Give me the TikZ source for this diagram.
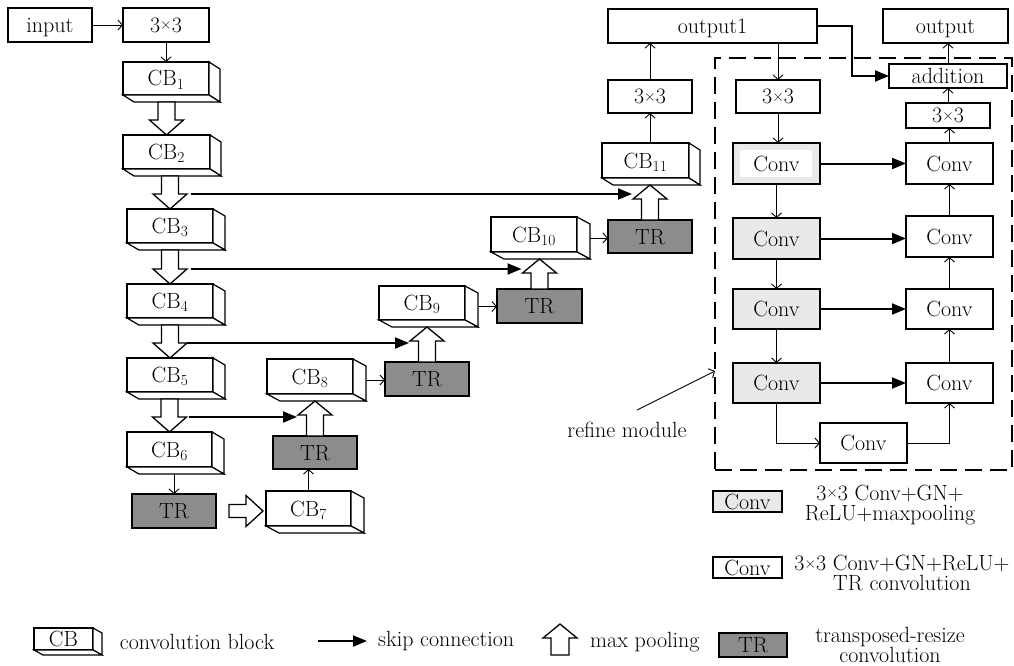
\documentclass[tikz,border=0pt]{standalone}
\usetikzlibrary{arrows.meta,calc}
\definecolor{trgray}{RGB}{140,140,140}
\definecolor{convgray}{RGB}{233,233,233}

% small multiplication sign used in "3x3"
\newcommand\tms{\raisebox{2.5pt}{\fontsize{16}{16}\selectfont ×}}
% \bx{name}{style}{x1}{y1}{x2}{y2}{text}: box given by its corners
\newcommand\bx[7]{\node[#2, minimum width={(#5)-(#3)}, minimum height={(#6)-(#4)}] (#1) at ({((#3)+(#5))/2},{((#4)+(#6))/2}) {#7};}
% \cbx{name}{x1}{y1}{x2}{y2}{text}{dx}{dy}: convolution block with extruded faces
\newcommand\cbx[8]{%
  \bx{#1}{box}{#2}{#3}{#4}{#5}{#6}
  \draw[face] (#1.north east) -- ++(#7,#8) -- ($(#1.south east)+(#7,#8)$) -- (#1.south east) -- cycle;
  \draw[face] (#1.south west) -- ++(#7,#8) -- ($(#1.south east)+(#7,#8)$) -- (#1.south east) -- cycle;
  \coordinate (#1b) at ($(#1.south)+(0,#8)$);
  \coordinate (#1r) at ($(#1.east)+(#7,#8/2)$);
}
% hollow max-pooling arrow pointing down, from block #1 to block #2
\newcommand\pooldown[2]{%
  \draw[hollow] let \p1=(#1b), \p2=(#2.north) in
    (\x2-8.5pt,\y1) -- (\x2+8.5pt,\y1) -- (\x2+8.5pt,\y2+15pt) -- (\x2+17pt,\y2+15pt) coordinate (#1pr)
    -- (\x2,\y2) -- (\x2-17pt,\y2+15pt) -- (\x2-8.5pt,\y2+15pt) -- cycle;}
% hollow max-pooling arrow pointing up, from TR box #1 to block #2
\newcommand\poolup[2]{%
  \draw[hollow] let \p1=(#1.north), \p2=(#2b) in
    (\x1-8.5pt,\y1) -- (\x1-8.5pt,\y2-14pt) -- (\x1-17pt,\y2-14pt) coordinate (#2pl)
    -- (\x1,\y2) -- (\x1+17pt,\y2-14pt) -- (\x1+8.5pt,\y2-14pt) -- (\x1+8.5pt,\y1) -- cycle;}

\begin{document}
\begin{tikzpicture}[x=1pt,y=-1pt,
  every node/.style={font=\fontsize{22}{22}\selectfont},
  box/.style={draw, line width=1.2pt, fill=white, inner sep=0pt, outer sep=0pt,
              text height=16pt, text depth=1pt},
  trbox/.style={box, fill=trgray},
  convbox/.style={box, fill=convgray},
  innerwhite/.style={path picture={\fill[white]
      ($(path picture bounding box.south west)+(7,-7)$) rectangle
      ($(path picture bounding box.north east)+(-8,7)$);}},
  face/.style={draw, line width=1.2pt, fill=white},
  hollow/.style={draw, line width=1.3pt, fill=white},
  link/.style={line width=0.9pt, -{Straight Barb[length=4.5pt,width=10pt]}},
  skiparrow/.style={line width=2pt, -{Triangle[length=14pt,width=11pt]}},
  dashedframe/.style={draw, line width=1.3pt, dash pattern=on 17pt off 8pt, inner sep=0pt},
  lbl/.style={align=center, inner sep=0pt},
  lbl2/.style={lbl, font=\fontsize{22}{20}\selectfont},
]
\useasboundingbox (0,0) rectangle (1014,666);

% refine module frame
\node[dashedframe, minimum width=297, minimum height=412] (frame) at (863.5,264) {};

% encoder column
\bx{input}{box}{8}{8}{92}{42}{input}
\bx{c33a}{box}{123}{8}{209}{42}{3\tms 3}
\cbx{cb1}{123}{62}{209}{95}{CB\textsubscript{1}}{11}{7}
\cbx{cb2}{123}{135}{210}{169}{CB\textsubscript{2}}{11}{7}
\cbx{cb3}{127}{209}{213}{243}{CB\textsubscript{3}}{12}{7}
\cbx{cb4}{127}{284}{213}{318}{CB\textsubscript{4}}{12}{7}
\cbx{cb5}{127}{358}{213}{392}{CB\textsubscript{5}}{12}{7}
\cbx{cb6}{127}{432}{212}{467}{CB\textsubscript{6}}{12}{7}
\bx{tr6}{trbox}{132}{494}{216}{528}{TR}

% decoder staircase
\cbx{cb7}{266}{491}{351}{526}{CB\textsubscript{7}}{13}{7}
\bx{tr7}{trbox}{273}{436}{357}{469}{TR}
\cbx{cb8}{267}{359}{353}{394}{CB\textsubscript{8}}{13}{7}
\bx{tr8}{trbox}{385}{362}{469}{396}{TR}
\cbx{cb9}{379}{286}{465}{320}{CB\textsubscript{9}}{13}{7}
\bx{tr9}{trbox}{497}{289}{582}{323}{TR}
\cbx{cb10}{491}{217}{577}{252}{CB\textsubscript{10}}{13}{7}
\bx{tr10}{trbox}{608}{220}{692}{253}{TR}
\cbx{cb11}{602}{143}{689}{178}{CB\textsubscript{11}}{11}{7}
\bx{c33b}{box}{608}{80}{692}{113}{3\tms 3}
\bx{out1}{box}{608}{9}{817}{43}{output1}

% refine module
\bx{r33}{box}{736}{80}{820}{113}{3\tms 3}
\bx{L1}{convbox,innerwhite}{733}{143}{820}{184}{Conv}
\bx{L2}{convbox}{733}{218}{820}{259}{Conv}
\bx{L3}{convbox}{733}{289}{820}{329}{Conv}
\bx{L4}{convbox}{733}{363}{820}{403}{Conv}
\bx{R1}{box}{906}{143}{993}{184}{Conv}
\bx{R2}{box}{906}{216}{993}{257}{Conv}
\bx{R3}{box}{906}{289}{993}{329}{Conv}
\bx{R4}{box}{906}{363}{993}{403}{Conv}
\bx{B}{box}{820}{423}{907}{463}{Conv}
\bx{s33}{box}{906}{103}{990}{128}{3\tms 3}
\bx{add}{box}{889}{64}{1007}{88}{addition}
\bx{out}{box}{883}{9}{1008}{43}{output}

% encoder links
\draw[link] (input) -- (c33a);
\draw[link] (c33a) -- (cb1);
\pooldown{cb1}{cb2}
\pooldown{cb2}{cb3}
\pooldown{cb3}{cb4}
\pooldown{cb4}{cb5}
\pooldown{cb5}{cb6}
\draw[link] (tr6.north |- cb6b) -- (tr6.north);
\draw[hollow] let \p1=(tr6.east), \p2=(cb7.west) in
  (\x1+13pt,\y1+6.5pt) -- (\x2-20pt,\y1+6.5pt) -- (\x2-20pt,\y1+15.5pt) -- (\x2-3pt,\y1)
  -- (\x2-20pt,\y1-15.5pt) -- (\x2-20pt,\y1-6.5pt) -- (\x1+13pt,\y1-6.5pt) -- cycle;

% decoder links
\draw[link] (cb7.north) -- (cb7.north |- tr7.south);
\poolup{tr7}{cb8}
\draw[link] (cb8r) -- (tr8.west |- cb8r);
\poolup{tr8}{cb9}
\draw[link] (cb9r) -- (tr9.west |- cb9r);
\poolup{tr9}{cb10}
\draw[link] (cb10r) -- (tr10.west |- cb10r);
\poolup{tr10}{cb11}
\draw[link] (c33b.south |- cb11.north) -- (c33b.south);
\draw[link] (c33b.north) -- (c33b.north |- out1.south);

% skip connections
\draw[skiparrow, shorten <=4pt, shorten >=1pt] (cb2pr) -- (cb2pr -| cb11pl);
\draw[skiparrow, shorten <=4pt, shorten >=1pt] (cb3pr) -- (cb3pr -| cb10pl);
\draw[skiparrow, shorten <=0pt, shorten >=1pt] (cb4pr) -- (cb4pr -| cb9pl);
\draw[skiparrow, shorten <=2pt, shorten >=1pt] (cb5pr) -- (cb5pr -| cb8pl);

% refine module links
\draw[link] (r33.north |- out1.south) -- (r33.north);
\draw[skiparrow] (out1.east) -- ++(35,0) |- (add.west);
\draw[link] (r33.south) -- (r33.south |- L1.north);
\draw[link] (L1) -- (L2);
\draw[link] (L2) -- (L3);
\draw[link] (L3) -- (L4);
\draw[skiparrow] (L1.east) -- (L1.east -| R1.west);
\draw[skiparrow] (L2.east) -- (L2.east -| R2.west);
\draw[skiparrow] (L3.east) -- (L3.east -| R3.west);
\draw[skiparrow] (L4.east) -- (L4.east -| R4.west);
\draw[link] (L4.south) |- (B.west);
\draw[link] (B.east) -| (R4.south);
\draw[link] (R4) -- (R3);
\draw[link] (R3) -- (R2);
\draw[link] (R2) -- (R1);
\draw[link] (R1.north) -- (R1.north |- s33.south);
\draw[link] (s33.north) -- (s33.north |- add.south);
\draw[link] (add.north) -- (add.north |- out.south);

% refine module label
\node[lbl] (rm) at (627,430) {refine module};
\coordinate (rmtail) at (637,410);
\coordinate (rmtip) at (715,371);
\draw[link] (rmtail) -- (rmtip);

% legend, right side
\bx{lg1}{convbox}{713}{491}{782}{512}{Conv}
\node[lbl2] (lg1t) at (890,505) {3\tms 3 Conv+GN+\\ReLU+maxpooling};
\bx{lg2}{box}{713}{557}{782}{578}{Conv}
\node[lbl2] (lg2t) at (902,573) {3\tms 3 Conv+GN+ReLU+\\TR convolution};

% legend, bottom row
\cbx{lgcb}{34}{628}{93}{650}{CB}{9}{5}
\node[lbl] (lgcbt) at (197,642) {convolution block};
\coordinate (ska) at (318,641);
\coordinate (skb) at (367,641);
\draw[skiparrow] (ska) -- (skb);
\node[lbl, anchor=west] (lgskt) at (378,641) {skip connection};
\draw[hollow] (551,655) -- (551,638) -- (543,638) -- (560,624) -- (577,638) -- (569,638) -- (569,655) -- cycle;
\node[lbl, anchor=west] (lgmpt) at (590,642) {max pooling};
\bx{lgtr}{trbox}{719}{633}{787}{657}{TR}
\node[lbl2] (lgtrt) at (890,645) {transposed-resize\\convolution};
\end{tikzpicture}
\end{document}
